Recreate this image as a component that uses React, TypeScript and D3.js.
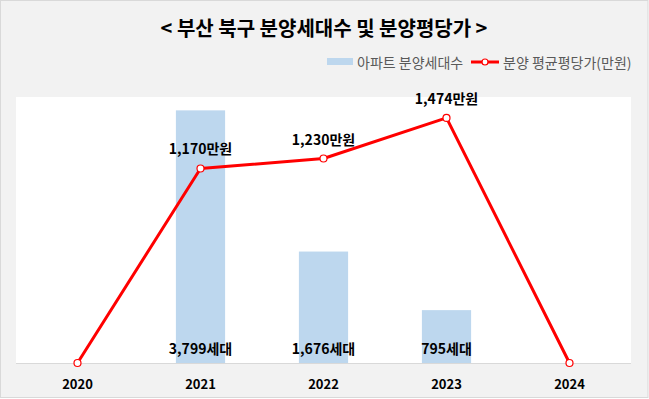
import * as d3 from "d3";

const years = ["2020", "2021", "2022", "2023", "2024"];
const units = [0, 3799, 1676, 795, 0];
const prices = [0, 1170, 1230, 1474, 0];

const W = 649;
const H = 399;
const plot = { left: 16, right: 631, top: 97, bottom: 363 };
const FONT = "'Noto Sans CJK KR', 'Noto Sans', sans-serif";

export default function App() {
  const x = d3.scaleBand().domain(years).range([plot.left, plot.right]).padding(0);
  const yBar = d3.scaleLinear().domain([0, 4000]).range([plot.bottom, plot.top]);
  const yLine = d3.scaleLinear().domain([0, 1600]).range([plot.bottom, plot.top]);
  const barW = x.bandwidth() * 0.4;
  const cx = (y: string) => (x(y) ?? 0) + x.bandwidth() / 2;

  const linePath = d3
    .line<number>()
    .x((_, i) => cx(years[i]))
    .y((d) => yLine(d))(prices);

  return (
    <svg
      width={W}
      height={H}
      style={{ position: "absolute", left: 0, top: 0, fontFamily: FONT }}
    >
      <rect x={0.5} y={0.5} width={W - 1.5} height={H - 2} fill="#f2f2f2" stroke="#d9d9d9" />
      <rect
        x={plot.left}
        y={plot.top}
        width={plot.right - plot.left}
        height={plot.bottom - plot.top}
        fill="#ffffff"
      />

      {/* title */}
      <text x={324} y={27} textAnchor="middle" dominantBaseline="central" fontSize={20} fontWeight="bold" fill="#000">
        {"< 부산 북구 분양세대수 및 분양평당가 >"}
      </text>

      {/* legend */}
      <rect x={327} y={58} width={26} height={7} fill="#bdd7ee" />
      <text x={357} y={62} dominantBaseline="central" fontSize={14} fill="#595959">
        아파트 분양세대수
      </text>
      <line x1={471} x2={499} y1={62} y2={62} stroke="#ff0000" strokeWidth={3} />
      <circle cx={485} cy={62} r={3} fill="#fff" stroke="#ff0000" strokeWidth={1.2} />
      <text x={503} y={62} dominantBaseline="central" fontSize={14} fill="#595959">
        분양 평균평당가(만원)
      </text>

      {/* bars */}
      {units.map((v, i) => (
        <rect
          key={years[i]}
          x={cx(years[i]) - barW / 2}
          y={yBar(v)}
          width={barW}
          height={plot.bottom - yBar(v)}
          fill="#bdd7ee"
        />
      ))}

      {/* axis line */}
      <line x1={plot.left} x2={plot.right} y1={plot.bottom + 0.5} y2={plot.bottom + 0.5} stroke="#d9d9d9" />

      {/* bar labels */}
      {units.map((v, i) =>
        v > 0 ? (
          <text
            key={"u" + i}
            x={cx(years[i])}
            y={348}
            textAnchor="middle"
            dominantBaseline="central"
            fontSize={14}
            fontWeight="bold"
            fill="#000"
          >
            {d3.format(",")(v) + "세대"}
          </text>
        ) : null
      )}

      {/* line */}
      <path d={linePath ?? ""} fill="none" stroke="#ff0000" strokeWidth={3} strokeLinejoin="round" />
      {prices.map((v, i) => (
        <circle key={"p" + i} cx={cx(years[i])} cy={yLine(v)} r={3.5} fill="#fff" stroke="#ff0000" strokeWidth={1.2} />
      ))}
      {prices.map((v, i) =>
        v > 0 ? (
          <text
            key={"l" + i}
            x={cx(years[i])}
            y={yLine(v) - 20}
            textAnchor="middle"
            dominantBaseline="central"
            fontSize={14}
            fontWeight="bold"
            fill="#000"
          >
            {d3.format(",")(v) + "만원"}
          </text>
        ) : null
      )}

      {/* x labels */}
      {years.map((y) => (
        <text
          key={y}
          x={cx(y)}
          y={383}
          textAnchor="middle"
          dominantBaseline="central"
          fontSize={13}
          fontWeight="bold"
          fill="#000"
        >
          {y}
        </text>
      ))}
    </svg>
  );
}
